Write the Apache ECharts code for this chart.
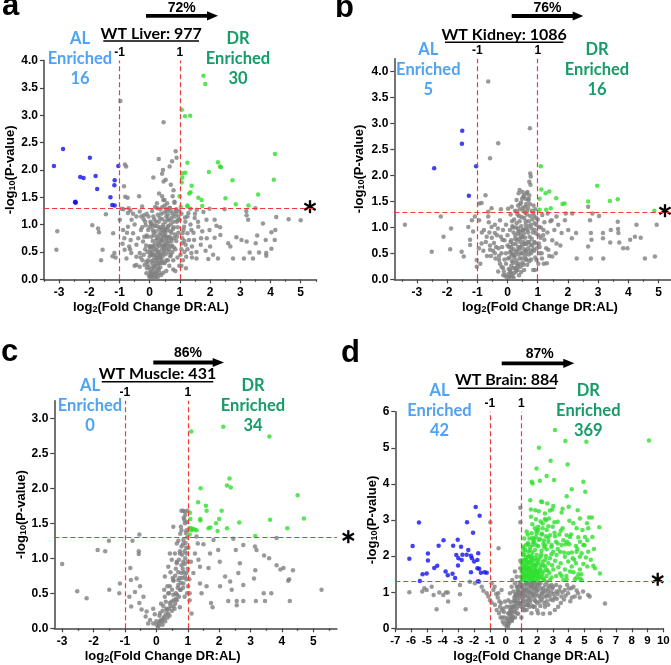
<!DOCTYPE html>
<html><head><meta charset="utf-8">
<script src="https://cdn.jsdelivr.net/npm/echarts@6/dist/echarts.min.js"></script>
<style>html,body{margin:0;padding:0;background:#fff}#c{width:671px;height:665px}</style>
</head><body><div id="c"></div><script>
// ---------- DATA ----------
const xTicksABC = [-3,-2,-1,0,1,2,3,4,5];
const yTicksAB = [0,0.5,1,1.5,2,2.5,3,3.5,4];
const yTicksC = [0,0.5,1,1.5,2,2.5,3];
const xTicksD = [-7,-6,-5,-4,-3,-2,-1,0,1,2,3,4,5,6,7,8,9,10];
const yTicksD = [0,1,2,3,4,5,6];

const titles = ['WT Liver: 977','WT Kidney: 1086','WT Muscle: 431','WT Brain: 884'];
const percents = ['72%','76%','86%','87%'];
const alCounts = ['16','5','0','42'];
const drCounts = ['30','16','34','369'];
const panelLetters = ['a','b','c','d'];
const cutX = [-1, 1];
const cutY = 1.3;

const aBlue = [[-3.17,2.07],[-2.87,2.38],[-1.98,2.22],[-2.30,1.87],[-2.19,1.85],[-1.79,1.89],[-1.74,1.65],[-2.47,1.41],[-2.45,1.40],[-1.30,1.50],[-1.16,1.81],[-1.17,1.72],[-1.24,1.36],[-1.16,1.35],[-1.04,2.07],[-2.46,1.42]];
const aGreen = [[1.78,3.72],[1.84,3.57],[1.06,3.10],[1.17,2.98],[1.34,2.99],[4.15,2.29],[1.25,2.13],[2.26,2.14],[2.33,2.06],[2.36,2.05],[1.08,1.94],[1.18,1.95],[1.96,1.96],[2.74,1.81],[4.11,1.82],[1.08,1.86],[1.39,1.71],[1.06,1.77],[1.31,1.57],[1.35,1.59],[1.61,1.49],[1.72,1.45],[2.51,1.48],[3.59,1.55],[0.99,1.52],[1.03,1.32],[1.25,1.35],[1.25,1.33],[1.74,1.34],[2.85,1.37],[3.27,1.35]];
const aGrey = [[-3.06,0.88],[-3.09,0.54],[-1.90,0.99],[-1.71,0.93],[-1.68,0.86],[-1.45,1.19],[-1.56,0.54],[-1.61,0.35],[-1.21,0.84],[-1.17,0.48],[-1.23,0.42],[-1.13,0.40],[-0.97,3.26],[-0.82,2.10],[-0.78,2.06],[-0.85,1.70],[-0.81,1.51],[-0.73,1.49],[-0.35,1.52],[-0.93,1.29],[-0.87,1.28],[-0.72,1.21],[-0.64,1.26],[-0.25,1.33],[-0.19,1.17],
[0.46,2.87],[0.30,2.20],[0.86,2.34],[0.89,2.22],[0.74,2.16],[0.66,2.06],[0.44,2.00],[0.41,1.93],[0.53,1.82],[0.12,1.86],[0.46,1.79],[0.70,1.73],[0.79,1.63],[0.76,1.52],[0.31,1.57],[0.41,1.52],[0.49,1.45],[0.24,1.39],[0.58,1.39],[0.82,1.42],[0.18,1.32],[0.42,1.32],[0.67,1.31],[0.88,1.28],
[1.35,1.29],[1.56,1.27],[1.98,1.29],[2.48,1.28],[3.20,1.25],[3.50,1.30],[4.19,1.14],[4.60,1.10],[5.00,1.08],[3.21,1.17],[3.26,1.09],[3.75,1.02],[4.16,0.90],[4.03,0.86],[4.14,0.72],[3.56,0.80],[3.84,0.72],[2.87,0.77],[3.04,0.72],[3.21,0.69],[3.51,0.66],[2.60,0.66],[2.67,0.60],[3.31,0.49],[3.62,0.49],[3.86,0.48],[4.03,0.56],[2.76,0.38],[3.12,0.38],[3.42,0.38],[3.86,0.43],[2.26,0.38],[1.94,0.37],[2.10,0.45],
[1.78,1.23],[1.88,1.09],[1.61,0.96],[1.74,0.88],[1.89,0.75],[1.98,0.90],[2.15,1.09],[2.21,0.98],[2.33,0.95],[2.34,0.81],[2.15,0.76],[2.00,0.60],[1.85,0.52],[1.69,0.63],[1.55,0.50],[1.38,0.48],[1.47,0.72],[1.25,0.84],[1.38,0.90],[1.14,0.96],[1.17,1.13],[1.49,1.12],[1.28,1.21],[0.99,1.09],[1.09,0.84],[1.07,0.66],[1.19,0.63],[1.40,0.60],[1.21,0.41],[1.55,0.38],
[-0.60,1.09],[-0.72,0.96],[-0.55,0.84],[-0.88,0.90],[-0.84,0.75],[-0.63,0.72],[-0.44,0.63],[-0.68,0.60],[-0.83,0.54],[-0.61,0.48],[-0.44,0.41],[-0.33,0.48],[-0.24,0.35],[-0.77,0.38],[-0.17,0.26],[-0.09,0.20],[-0.11,0.11],[-0.02,0.05],[0.04,0.02],[0.01,0.08],[-0.33,0.23],[-0.44,0.26],[-0.11,0.32],[-0.22,0.69],[-0.29,0.90],[-0.08,0.78],[-0.13,0.99],[0.00,0.60],[0.02,0.48],[-0.04,1.15],[0.06,1.02],[-0.44,1.15],[-0.33,1.24],[-0.99,1.09],
[0.05,0.05],[0.1,0.1],[0.15,0.03],[0.2,0.12],[0.08,0.2],[0.18,0.25],[0.25,0.18],[0.3,0.3],[0.12,0.35],[0.22,0.4],[0.35,0.22],[0.4,0.35],[0.28,0.5],[0.15,0.55],[0.05,0.45],[0.32,0.62],[0.45,0.48],[0.5,0.3],[0.55,0.55],[0.42,0.7],[0.25,0.75],[0.1,0.7],[0.2,0.88],[0.35,0.85],[0.5,0.8],[0.62,0.65],[0.7,0.45],[0.6,0.95],[0.45,1.0],[0.3,1.05],[0.15,1.1],[0.38,1.2],[0.55,1.15],[0.7,1.0],[0.8,0.75],[0.85,0.55],[0.75,1.2],[0.9,1.05],[0.95,0.85],[0.65,1.3],[0.5,1.35],[0.25,1.3],[0.1,0.9],[0.0,0.6],[-0.05,0.35],[0.02,0.15],[0.12,0.6],[0.27,0.65],[0.4,0.55],[0.33,0.42],[0.48,0.62],[0.58,0.78],[0.68,0.88],[0.72,0.7],[0.8,0.95],[0.88,0.7],[0.92,0.4],[0.78,0.35],[0.65,0.25],[0.55,0.15],[0.45,0.12],[0.38,0.08],[0.28,0.05],[0.22,0.02],[0.42,0.9],[0.52,0.92],[0.35,0.95],[0.18,0.98],[0.6,1.1],[0.85,1.25],[0.95,1.15],[0.82,1.4],[0.45,1.45],[0.58,1.25],[0.3,0.18],[0.18,0.45],[0.08,0.5],[0.25,0.58],[0.62,0.5],[0.7,0.6],[0.75,0.5],[1.05,0.55],[1.1,0.35],[1.15,0.7],[1.05,1.2],[0.98,0.25],[0.15,0.8],[0.05,1.0],[-0.1,0.8],[-0.15,0.55],[-0.2,1.1],[-0.3,0.4],[0.38,0.75],[0.46,0.78],[0.53,0.7],[0.6,0.35],[0.85,0.15],[0.78,0.18],[1.2,0.2]];
const aGreyCore = [[0.02,0.12],[0.07,0.07],[0.13,0.15],[0.17,0.08],[0.23,0.1],[0.27,0.25],[0.09,0.28],[-0.03,0.22],[0.14,0.22],[0.32,0.12],[0.2,0.3],[0.36,0.3],[0.06,0.33],[-0.07,0.28],[0.24,0.34],
[0.0,0.42],[0.1,0.45],[0.16,0.4],[0.26,0.44],[0.31,0.5],[0.37,0.46],[0.43,0.42],[0.48,0.52],[0.53,0.46],[0.58,0.6],[0.64,0.55],[0.68,0.42],[0.74,0.62],[0.8,0.58],[0.07,0.6],[0.17,0.64],[0.22,0.52],[0.34,0.68],[0.41,0.62],[0.47,0.58],[0.52,0.64],[0.63,0.7],[0.36,0.38],[0.44,0.3],[0.55,0.35],[-0.08,0.5],[-0.12,0.62],[-0.2,0.45],[0.02,0.55],[0.28,0.38],
[0.05,0.78],[0.13,0.85],[0.22,0.72],[0.28,0.8],[0.32,0.92],[0.4,0.82],[0.48,0.88],[0.55,0.75],[0.58,0.9],[0.66,0.78],[0.72,0.85],[0.77,0.92],[0.84,0.82],[0.9,0.78],[0.93,0.95],[-0.05,0.9],[-0.18,0.78],[-0.25,0.95],[0.0,0.95],[0.1,0.98],[0.25,0.97],[0.45,0.95],[0.62,0.98],[0.7,0.75],[0.52,0.85],[0.38,0.72],
[0.02,1.05],[0.12,1.15],[0.2,1.05],[0.27,1.18],[0.33,1.12],[0.42,1.1],[0.48,1.22],[0.52,1.05],[0.6,1.18],[0.65,1.08],[0.72,1.12],[0.78,1.05],[0.82,1.15],[0.88,1.2],[0.92,1.08],[0.98,1.25],[-0.1,1.2],[-0.15,1.05],[0.08,1.25],[0.35,1.28],[0.55,1.28],[0.7,1.25],
[1.02,0.45],[1.08,0.75],[1.12,0.9],[1.18,1.05],[1.25,0.55],[1.3,0.72],[1.35,1.0],[1.45,0.85],[1.05,0.25],[1.15,0.5],[1.5,1.2],[1.6,1.05],[1.7,0.75],[1.4,0.4],[1.25,1.15],
[-0.5,1.0],[-0.65,0.55],[-0.75,0.85],[-0.5,0.25],[-0.38,0.75],[-0.9,0.65],[-0.55,1.2],[-0.28,1.15],[-0.7,1.3]];

const bBlue = [[-1.50,2.86],[-1.51,2.61],[-2.43,2.14],[-1.04,2.18],[-1.28,1.61]];
const bGreen = [[1.10,2.18],[1.12,1.73],[1.26,1.66],[1.38,1.69],[1.06,1.55],[1.61,1.56],[1.82,1.45],[1.89,1.46],[2.67,1.50],[2.97,1.80],[3.39,1.51],[3.65,1.54],[1.06,1.34],[1.28,1.34],[1.43,1.37],[4.86,1.32]];
const bGrey = [[-0.64,3.81],[0.74,2.91],[-0.31,2.62],[-0.58,2.33],[0.75,2.04],[0.77,1.98],[0.72,1.88],[0.76,1.82],[0.40,1.72],[0.37,1.66],[0.63,1.66],[0.52,1.59],[0.69,1.53],[0.30,1.53],[0.42,1.45],[0.14,1.40],[0.02,1.36],[-0.22,1.35],[-0.53,1.37],[-0.73,1.62],[-0.94,1.46],[-0.86,1.47],[-0.64,1.30],[-2.21,1.21],[-3.40,1.05],[-1.87,0.98],[-2.12,0.82],[-1.90,0.58],[-2.51,0.53],[-1.52,0.53],[-1.45,0.44],[-1.24,0.76],[-1.30,1.01],[-1.18,1.14],[-1.08,1.21],[-1.14,0.92],[-1.24,0.66],[-1.02,0.37],[-1.02,0.24],[-0.94,1.14],[-0.78,0.95],[-0.86,0.69],[-0.69,0.82],[-0.53,1.01],[-0.42,0.89],[-0.58,0.57],[-0.42,0.50],[-0.28,0.37],[-0.20,0.24],[-0.31,0.15],[-0.14,0.08],[-0.03,0.04],[0.08,0.05],[-0.64,1.21],[-0.25,1.14],[-0.17,0.76],
[1.33,1.27],[1.15,1.24],[1.46,1.14],[1.62,1.21],[1.93,1.27],[2.14,1.27],[2.67,1.40],[2.81,1.27],[3.03,1.22],[2.73,1.14],[3.16,0.89],[3.16,0.79],[3.42,0.95],[3.65,1.11],[3.66,0.97],[3.67,0.89],[3.70,0.71],[3.83,0.60],[3.97,0.60],[4.06,0.76],[4.22,0.82],[4.27,1.05],[4.41,0.80],[4.55,0.40],[4.88,0.44],[4.94,1.05],[3.17,0.40],[2.76,0.40],[2.29,0.40],[2.76,0.89],[2.78,0.76],[2.67,0.63],[3.40,0.71],[2.27,0.89],[2.13,0.79],[2.01,0.95],[1.90,1.14],[1.79,0.89],[1.62,0.69],[1.48,0.44],[1.35,0.57],[1.22,0.76],[1.19,0.95],[1.04,1.01],[1.03,0.85],[1.04,0.69],[1.13,0.50],[0.96,0.37],[1.30,0.31],[0.91,0.18],
[0.05,0.05],[0.12,0.1],[0.2,0.03],[0.08,0.18],[0.18,0.22],[0.28,0.15],[0.3,0.3],[0.15,0.35],[0.22,0.42],[0.35,0.25],[0.4,0.4],[0.28,0.52],[0.12,0.55],[0.02,0.4],[0.35,0.62],[0.45,0.5],[0.5,0.32],[0.55,0.58],[0.42,0.72],[0.25,0.78],[0.1,0.72],[0.2,0.9],[0.35,0.88],[0.5,0.82],[0.62,0.68],[0.7,0.48],[0.6,0.98],[0.45,1.02],[0.3,1.08],[0.15,1.12],[0.38,1.22],[0.55,1.18],[0.7,1.02],[0.8,0.78],[0.85,0.58],[0.75,1.22],[0.9,1.08],[0.95,0.88],[0.65,1.32],[0.5,1.38],[0.25,1.32],[0.0,0.65],[-0.05,0.3],[0.12,0.62],[0.27,0.68],[0.4,0.58],[0.48,0.65],[0.58,0.8],[0.68,0.9],[0.72,0.72],[0.8,0.98],[0.88,0.72],[0.92,0.42],[0.78,0.38],[0.65,0.28],[0.55,0.18],[0.45,0.14],[0.38,0.08],[0.42,0.92],[0.52,0.95],[0.35,0.98],[0.18,1.0],[0.6,1.12],[0.85,1.28],[0.95,1.18],[0.45,1.48],[0.58,1.28],[0.3,0.2],[0.18,0.48],[0.08,0.52],[0.62,0.52],[0.75,0.55],[0.38,0.78],[0.46,0.8],[0.53,0.72],[0.6,0.38],[0.85,0.18],[0.62,1.45],[0.7,1.55],[0.35,1.42],[0.55,1.62],[-0.1,0.75],[-0.2,0.5],[-0.3,0.6],[-0.15,0.95],[-0.35,0.85],[-0.45,0.7],[-0.55,0.45],[-0.25,0.3],[-0.12,0.15],[-0.4,0.4],[-0.6,0.9],[-0.05,1.05],[0.1,1.25],[1.05,0.5],[1.1,0.8],[1.2,0.3],[1.0,1.15]];
const bGreyCore = [[0.03,0.1],[0.1,0.14],[0.16,0.06],[0.22,0.12],[0.26,0.22],[0.12,0.26],[0.04,0.2],[0.33,0.18],[0.18,0.32],[0.29,0.36],[0.38,0.3],[0.43,0.24],[0.48,0.4],[0.52,0.28],[0.58,0.45],[0.63,0.38],[0.68,0.6],[0.72,0.35],[0.78,0.5],[0.82,0.65],[0.88,0.55],[0.92,0.7],[0.97,0.6],[0.07,0.42],[0.14,0.48],[0.2,0.58],[0.24,0.46],[0.32,0.55],[0.37,0.48],[0.42,0.62],[0.5,0.5],[0.56,0.68],[0.6,0.55],[0.66,0.72],[0.73,0.82],[0.76,0.66],[0.84,0.9],[0.9,0.95],[0.95,1.05],[0.05,0.62],[0.12,0.75],[0.18,0.68],[0.26,0.85],[0.31,0.75],[0.36,0.92],[0.44,0.85],[0.5,0.95],[0.54,0.88],[0.6,1.05],[0.66,0.95],[0.7,1.12],[0.78,1.05],[0.82,1.15],[0.88,1.22],[0.92,1.35],[0.0,0.85],[0.08,0.95],[0.16,1.02],[0.22,1.15],[0.28,1.0],[0.33,1.25],[0.4,1.12],[0.46,1.2],[0.52,1.32],[0.58,1.4],[0.64,1.25],[0.68,1.38],[0.74,1.45],[0.8,1.32],[0.86,1.42],[0.4,1.35],[0.3,1.3],[0.48,1.55],[0.6,1.55],[0.66,1.68],[0.72,1.62],[0.5,1.68],[-0.05,0.5],[-0.1,0.38],[-0.18,0.62],[-0.22,0.82],[-0.28,0.45],[-0.32,0.98],[-0.38,0.62],[-0.42,1.05],[-0.48,0.55],[-0.52,0.8],[-0.58,0.65],[-0.62,1.1],[-0.68,0.45],[-0.72,0.72],[-0.8,0.55],[-0.85,0.9],[-0.9,0.3],[-0.95,0.6],[-0.15,0.22],[-0.08,0.08],[1.02,0.3],[1.06,0.62],[1.1,1.0],[1.14,0.4],[1.18,0.85],[1.22,1.1],[1.28,0.6],[1.32,0.9],[1.38,0.45],[1.42,1.12],[1.48,0.75],[1.55,0.95],[1.6,0.5],[1.68,1.05],[1.75,0.65]];

const cBlue = [];
const cGreen = [[1.11,2.81],[2.13,2.88],[3.60,2.74],[2.33,2.14],[2.25,2.04],[2.37,2.01],[1.41,2.00],[4.50,1.90],[1.33,1.80],[1.58,1.75],[1.60,1.68],[2.08,1.68],[1.07,1.65],[4.70,1.57],[3.62,1.55],[1.40,1.56],[1.40,1.54],[1.08,1.56],[2.00,1.56],[1.90,1.50],[2.64,1.51],[1.95,1.39],[1.05,1.43],[1.10,1.43],[1.16,1.42],[1.22,1.41],[1.66,1.43],[1.72,1.44],[2.25,1.43],[4.17,1.43],[3.15,1.32],[1.06,1.34],[1.12,1.40],[1.28,1.40]];
const cGrey = [[-3.0,0.92],[-2.52,0.53],[-2.22,0.43],[-1.87,1.12],[-1.63,1.10],[-1.51,1.25],[-1.50,0.55],[-1.16,0.64],[-1.18,0.50],[-0.83,0.86],[-0.76,1.25],[-0.81,0.69],[-0.63,0.71],[-0.86,0.45],[-0.80,0.31],[-0.68,0.52],[-0.54,1.34],[-0.56,1.10],[-0.56,1.06],[-0.52,0.60],[-0.41,0.45],[-0.54,0.36],[-0.47,0.27],[-0.31,0.24],[-0.34,0.17],[-0.20,0.12],[-0.10,0.07],[-0.26,0.07],[0.01,0.05],[0.11,0.10],[0.22,0.14],[0.38,0.21],[0.33,0.26],[0.54,0.31],[0.43,0.36],[0.65,0.40],[0.54,0.48],[0.75,0.55],[0.86,0.64],[0.70,0.69],[0.91,0.74],[0.80,0.79],[0.54,0.69],[0.43,0.60],[0.27,0.45],[0.27,0.74],[0.38,0.88],[0.49,0.98],[0.43,1.07],[0.59,1.07],[0.65,0.93],[0.75,1.07],[0.80,1.17],[0.65,1.21],[0.86,1.26],[0.80,1.40],[0.54,1.45],[0.91,1.67],[0.80,1.68],[0.89,1.55],[0.91,1.50],[0.94,1.36],[0.96,1.07],[1.00,0.95],[0.96,0.79],[1.01,0.60],[1.06,0.40],[1.12,0.21],[1.06,0.50],[1.18,0.79],[1.23,1.07],[1.32,1.21],[1.34,0.98],[1.39,0.64],[1.44,0.50],[1.60,0.60],[1.66,0.86],[1.71,1.07],[1.82,1.26],[1.97,1.12],[2.02,0.95],[1.74,0.36],[1.79,0.30],[2.03,0.60],[2.19,0.74],[2.35,0.67],[2.40,0.55],[2.29,0.39],[2.56,0.39],[2.56,0.33],[2.77,0.39],[2.77,0.62],[2.66,0.93],[2.61,0.79],[2.53,1.12],[2.77,1.19],[3.14,1.17],[3.15,0.83],[3.11,0.71],[3.17,0.39],[3.46,0.39],[3.42,0.50],[3.66,0.50],[3.43,1.04],[3.59,1.00],[3.83,1.29],[3.83,0.90],[3.95,0.84],[4.05,0.86],[4.23,0.70],[4.20,0.68],[4.25,0.39],[4.35,0.83],[5.26,0.55],[3.19,1.12],[2.45,1.28],[1.50,1.20],[1.28,1.31],[1.39,0.88],
[0.05,0.02],[0.1,0.08],[0.15,0.12],[0.2,0.05],[0.25,0.16],[0.3,0.2],[0.35,0.15],[0.4,0.28],[0.45,0.32],[0.5,0.25],[0.55,0.4],[0.6,0.35],[0.62,0.5],[0.68,0.58],[0.72,0.45],[0.78,0.65],[0.82,0.72],[0.85,0.58],[0.88,0.8],[0.9,0.92],[0.92,1.0],[0.95,1.15],[0.98,1.3],[0.7,0.8],[0.6,0.75],[0.5,0.55],[0.4,0.5],[0.3,0.38],[0.2,0.25],[0.1,0.18],[0.0,0.1],[-0.05,0.2],[-0.1,0.28],[0.35,0.6],[0.65,0.95],[0.75,1.1],[0.85,1.2],[0.8,0.9],[0.95,0.7],[0.98,0.5],[0.9,0.45],[0.75,0.3],[0.55,0.68],[0.45,0.8],[0.25,0.55],[0.15,0.35],[1.0,0.85],[0.97,1.52],[0.92,1.62],[0.85,1.68],[0.78,1.45],[0.7,1.25]];
const cGreyCore = [[0.08,0.04],[0.18,0.1],[0.28,0.1],[0.32,0.28],[0.42,0.18],[0.48,0.38],[0.58,0.28],[0.62,0.42],[0.66,0.48],[0.7,0.62],[0.74,0.72],[0.78,0.55],[0.84,0.85],[0.86,0.95],[0.9,1.1],[0.93,1.22],[0.96,1.4],[0.82,1.05],[0.72,0.98],[0.62,0.85],[0.52,0.72],[0.38,0.5],[0.22,0.32],[0.12,0.22],[1.02,1.15],[1.05,0.7],[1.1,0.95],[0.99,1.68],[0.87,1.58],[0.76,1.35]];

const dBlue = [[-6.11,1.93],[-5.90,2.28],[-5.50,2.93],[-5.44,1.31],[-5.27,1.50],[-5.01,1.52],[-4.93,2.07],[-4.93,1.88],[-4.53,1.67],[-4.34,1.73],[-4.25,2.29],[-3.94,2.44],[-3.81,1.57],[-3.67,1.47],[-3.37,1.51],[-3.33,2.29],[-3.21,1.39],[-3.13,2.03],[-3.04,2.45],[-3.00,1.94],[-3.02,1.74],[-2.83,2.26],[-2.74,2.04],[-2.47,2.04],[-2.45,2.94],[-2.20,2.01],[-2.14,1.94],[-2.20,1.55],[-2.07,2.65],[-2.00,1.85],[-1.90,3.36],[-1.79,1.89],[-1.79,1.66],[-1.65,3.12],[-1.68,1.65],[-1.57,1.54],[-1.34,1.55],[-1.20,1.54],[-1.75,1.30],[-2.37,2.17],[-2.79,1.89],[-1.74,2.08]];
const dGreen = [[3.13,5.49],[3.79,5.19],[5.12,5.17],[9.09,5.20],[2.11,5.00],[2.85,4.64],[3.93,4.54],[1.96,4.43],[1.65,4.06],[1.71,4.01],[2.17,4.09],[2.60,4.22],[3.07,4.11],[4.93,4.06],[4.19,3.85],[5.05,3.78],[3.87,3.66],[1.56,3.55],[2.24,3.51],[2.32,3.50],[2.64,3.46],[3.02,3.39],[2.96,3.29],[3.61,3.31],[4.0,3.37],[1.60,3.29],[1.88,3.27],[2.10,3.24],[2.49,3.18],[2.81,3.26],[3.55,3.21],[4.57,3.27],[5.29,3.07],[5.47,3.07],[1.61,3.09],[1.92,3.02],[2.22,2.96],[2.49,3.03],[2.75,3.04],[3.09,2.94],[2.71,2.83],[3.61,2.77],[4.04,2.98],[4.29,2.91],[4.71,3.04],[5.16,2.91],[5.94,2.80],[1.69,2.88],[1.86,2.77],[2.07,2.81],[2.35,2.77],[2.60,2.72],[2.98,2.81],[4.50,2.77],[4.87,2.72],[5.24,2.77],[1.33,2.68],[1.65,2.63],[1.97,2.63],[2.28,2.60],[2.81,2.58],[3.13,2.55],[3.87,2.58],[4.08,2.53],[4.61,2.52],[5.03,2.53],[5.50,2.53],[1.18,2.49],[1.51,2.49],[1.80,2.47],[2.18,2.47],[2.43,2.43],[2.71,2.40],[3.19,2.40],[3.66,2.44],[4.71,2.40],[5.18,2.44],[1.40,2.35],[1.71,2.31],[2.07,2.28],[2.39,2.34],[2.92,2.31],[3.55,2.31],[3.80,2.33],[4.04,2.33],[4.46,2.28],[4.93,2.31],[1.12,2.26],[1.25,2.17],[1.55,2.17],[1.86,2.17],[2.28,2.15],[2.60,2.19],[3.02,2.12],[3.45,2.12],[3.97,2.08],[4.50,2.12],[4.82,2.08],[5.24,2.12],[1.12,2.03],[1.44,1.98],[1.65,2.00],[1.97,2.03],[2.22,1.98],[2.56,2.00],[2.81,1.94],[3.23,2.03],[3.76,1.98],[4.25,1.94],[4.71,1.98],[5.09,1.96],[1.22,1.89],[1.54,1.85],[1.75,1.87],[2.07,1.82],[2.35,1.85],[2.71,1.80],[3.13,1.87],[3.49,1.80],[3.97,1.85],[4.46,1.80],[4.93,1.78],[5.56,1.73],[5.66,1.66],[5.98,1.52],[1.08,1.75],[1.33,1.71],[1.58,1.72],[1.75,1.66],[1.92,1.71],[2.18,1.66],[2.49,1.71],[3.02,1.63],[3.34,1.69],[3.76,1.63],[4.19,1.71],[4.71,1.63],[5.18,1.71],[1.16,1.59],[1.44,1.57],[1.65,1.57],[1.86,1.59],[2.14,1.52],[2.39,1.57],[2.77,1.54],[3.45,1.52],[4.08,1.57],[4.61,1.50],[1.12,1.48],[1.37,1.45],[1.58,1.43],[1.80,1.48],[2.01,1.43],[2.28,1.41],[2.60,1.45],[2.92,1.41],[3.55,1.45],[4.40,1.36],[4.71,1.38],[4.82,1.34],[1.16,1.35],[1.51,1.35],[1.75,1.34],[2.07,1.35],[2.39,1.34],[2.81,1.34],[3.66,1.34],[3.87,1.35],[4.50,1.41],[1.02,1.80],[1.08,1.89],[1.16,2.08],[1.29,1.98],[1.44,2.12],[1.02,1.57],[1.29,1.50],[1.51,1.66],[1.65,1.80],[1.86,1.75],[1.97,1.89],[1.33,1.85],[1.22,1.66],[1.54,1.52],[1.97,1.48],[1.65,1.43],[1.08,1.43],[1.08,1.66],[1.44,2.35],[1.75,2.40],[1.92,2.53],[2.07,2.72],[2.35,2.90],[2.56,2.99],[2.45,2.25],[2.90,2.05],[3.30,2.20],[3.40,2.60],[3.30,2.95],[3.20,1.45],[3.85,1.45],[4.30,1.55],[4.20,2.10],[2.95,1.75],[2.65,1.60],[2.25,1.75],[1.40,1.60],[1.85,1.40],[1.25,1.40],[1.35,1.78],[1.95,2.30],[2.55,2.55],[2.02,1.58],[1.62,1.95]];
const dGreenCore = [[1.05,1.38],[1.1,1.52],[1.14,1.7],[1.18,1.45],[1.2,1.8],[1.24,1.32],[1.27,1.62],[1.3,1.9],[1.35,1.48],[1.38,1.68],[1.42,1.38],[1.46,1.82],[1.48,2.0],[1.52,1.45],[1.56,1.62],[1.6,1.35],[1.63,1.9],[1.67,1.55],[1.7,2.1],[1.73,1.42],[1.78,1.75],[1.82,1.52],[1.85,1.95],[1.9,1.62],[1.94,1.32],[1.98,1.78],[2.03,1.55],[2.1,1.92],[2.16,1.42],[2.2,1.6],[2.26,2.05],[2.32,1.5],[2.38,1.75],[2.44,1.38],[2.52,1.9],[2.58,1.62],[1.12,2.2],[1.28,2.3],[1.4,2.6],[1.55,2.25],[1.7,2.5],[1.82,2.38],[1.95,2.7],[2.1,2.45],[2.3,2.62],[2.5,2.3],[2.7,2.5],[2.9,2.25],[3.1,2.65],[3.3,2.35],[3.5,2.7],[3.7,2.1],[3.9,2.4],[4.15,2.6],[4.35,1.9],[4.55,2.2],[4.8,1.5],[5.0,2.3],[5.4,1.9],[5.6,2.2]];
const dGrey = [[-6.11,1.00],[-5.29,1.02],[-5.16,1.11],[-5.01,1.06],[-4.69,1.15],[-4.57,0.92],[-4.38,0.53],[-4.21,0.99],[-3.96,0.92],[-3.79,0.99],[-3.67,0.99],[-3.65,0.74],[-2.90,0.94],[-2.90,1.20],[-2.54,0.53],[-2.27,1.29],[-1.95,1.25],[-1.67,1.29],[-1.52,1.15],[-1.41,1.04],[-1.20,0.97],[-1.10,0.88],[-0.97,2.94],[-0.45,2.22],[-0.99,0.78],[-0.89,0.71],[-0.68,0.65],[-0.57,0.51],[-0.42,0.42],[-0.32,0.30],[-0.19,0.18],[-0.09,0.12],[0.06,0.06],[0.17,0.12],[-0.36,0.60],[-0.47,0.97],[-0.78,1.06],[-0.89,1.25],[-0.26,1.06],[-0.04,0.74],[0.17,0.42],[0.38,0.28],[0.34,0.51],[0.55,0.60],[0.70,0.42],[0.59,0.78],[0.80,0.97],[0.91,0.69],[0.97,1.43],[0.93,1.66],[0.93,1.87],[0.93,2.94],[0.93,3.34],[1.01,1.15],[1.06,0.88],[1.12,0.51],[1.22,1.06],[1.33,1.25],[1.43,0.78],[1.54,0.97],[1.64,1.15],[1.75,0.60],[1.85,0.88],[1.96,1.06],[2.06,1.25],[2.17,0.74],[2.27,0.95],[2.38,1.11],[2.49,0.60],[2.59,0.88],[2.70,1.02],[2.91,1.20],[3.01,0.78],[3.22,1.02],[3.33,0.60],[3.54,0.88],[3.75,1.06],[3.96,0.97],[4.17,1.11],[4.38,0.88],[4.59,0.97],[4.91,1.02],[5.23,0.92],[5.33,0.88],[6.30,0.69],[0.59,1.25],[0.76,1.15],[0.70,1.43],[0.59,1.57],[0.42,1.34],[0.38,1.15],[0.27,0.97],[0.17,0.78],[0.06,0.60],[0.49,1.02],[0.70,0.92],[0.80,0.69],[1.01,0.60],[1.33,0.51],[1.64,0.42],[2.06,0.42],[2.38,0.40],[2.81,0.42],[3.12,0.51],[1.85,0.60],[1.43,0.65],
[0.1,0.1],[0.2,0.2],[0.3,0.35],[0.4,0.2],[0.5,0.45],[0.6,0.3],[0.7,0.55],[0.8,0.4],[0.9,0.7],[1.0,0.3],[1.1,0.75],[1.2,0.9],[1.3,0.65],[1.4,1.05],[1.5,0.85],[1.6,1.2],[1.7,0.95],[1.8,1.1],[1.9,0.75],[2.0,1.15],[2.1,0.9],[2.2,1.25],[2.3,0.8],[2.4,1.0],[2.5,1.2],[2.6,0.75],[2.7,1.1],[2.8,0.9],[2.9,1.0],[3.0,1.15],[3.1,0.85],[3.2,1.2],[3.3,0.95],[3.4,1.05],[3.5,0.7],[3.6,1.0],[3.8,0.9],[4.0,1.1],[4.2,0.85],[4.5,1.05],[0.6,0.9],[0.8,1.05],[1.0,1.2],[0.5,0.75],[0.4,0.6],[0.3,0.5],[1.2,0.5],[1.5,0.6],[1.1,1.0],[1.3,1.25],[1.6,0.8],[2.0,0.5],[0.9,1.25],[0.7,1.15],[0.2,0.4],[-0.1,0.45],[-0.2,0.3],[-0.3,0.7],[-0.5,0.85],[1.7,1.28],[1.9,1.22],[2.6,1.28]];
const dGreyCore = [[0.05,0.2],[0.12,0.28],[0.22,0.15],[0.28,0.4],[0.35,0.45],[0.42,0.35],[0.45,0.58],[0.52,0.62],[0.58,0.48],[0.62,0.72],[0.68,0.68],[0.72,0.85],[0.78,0.78],[0.82,0.62],[0.86,0.92],[0.92,0.85],[0.96,1.0],[1.02,0.95],[1.06,1.1],[1.12,0.82],[1.16,1.05],[1.22,1.2],[1.26,0.95],[1.32,1.1],[1.38,0.88],[1.42,1.22],[1.46,1.0],[1.52,1.15],[1.56,1.28],[1.62,1.05],[1.68,1.18],[1.72,0.9],[1.78,1.25],[1.82,1.0],[1.88,1.12],[1.94,0.95],[2.04,1.05],[2.12,1.2],[2.18,0.85],[2.24,1.1],[2.32,1.0],[2.42,0.88],[2.52,1.05],[2.64,0.92],[2.75,1.18],[2.85,0.8],[2.95,1.1],[3.05,0.95],[3.25,0.82],[3.45,1.15],[3.7,0.8],[3.9,1.2],[4.1,0.75],[4.3,1.15],[4.7,0.85],[0.15,0.05],[0.25,0.25],[0.38,0.22],[0.48,0.3],[0.55,0.85],[0.65,0.95],[0.75,1.05],[0.85,1.15],[0.95,1.28],[0.32,0.72],[0.25,0.6],[1.05,0.68],[1.15,0.6],[1.28,0.75],[1.4,0.65],[1.55,0.72],[1.7,0.62],[1.85,0.78],[2.0,0.7],[2.2,0.62],[2.45,0.7],[2.7,0.65],[-0.05,0.3],[-0.15,0.55],[-0.25,0.5],[-0.4,0.75],[-0.6,0.95],[-0.7,1.15]];

// ---------- LAYOUT / STYLE ----------
const AX = '"Liberation Sans", Arial, sans-serif';
const CAL = 'Lato, "Open Sans", sans-serif';
const panels = [
  {grid:{left:44, top:60.5, width:271.8, height:218.8}, xMin:-3.5, xMax:5.5, yMax:4, xt:xTicksABC, yt:yTicksAB, dec:1, minor:true, grey:aGrey.concat(aGreyCore), blue:aBlue, green:aGreen, namePad:[0,58,0,0], yGap:26},
  {grid:{left:394.3, top:58.7, width:276.3, height:220.6}, xMin:-3.75, xMax:5.4, yMax:4.25, xt:xTicksABC, yt:yTicksAB, dec:1, minor:true, grey:bGrey.concat(bGreyCore), blue:bBlue, green:bGreen, namePad:[0,0,0,15], yGap:28},
  {grid:{left:54.3, top:400.8, width:282.6, height:227.5}, xMin:-3.25, xMax:5.75, yMax:3.25, xt:xTicksABC, yt:yTicksC, dec:1, minor:true, grey:cGrey.concat(cGreyCore), blue:cBlue, green:cGreen, namePad:[0,66,0,0], yGap:26},
  {grid:{left:395.3, top:411.7, width:268, height:216.6}, xMin:-7, xMax:10, yMax:6, xt:xTicksD, yt:yTicksD, dec:0, minor:false, grey:dGrey.concat(dGreyCore), blue:dBlue, green:dGreen.concat(dGreenCore), namePad:[0,0,0,4], yGap:13}
];

const axisCol = '#444';
const nameStyle = {fontSize:13, fontWeight:'bold', fontFamily:AX, color:'#000',
  rich:{s:{fontSize:9, fontWeight:'bold', fontFamily:AX, color:'#000', verticalAlign:'bottom', lineHeight:13, padding:[6,0,0,0]}}};

const grids=[], xAxes=[], yAxes=[], series=[];
panels.forEach((p,i)=>{
  grids.push(Object.assign({outerBoundsMode:'none', containLabel:false}, p.grid));
  xAxes.push({type:'value', gridIndex:i, min:p.xMin, max:p.xMax, position:'bottom',
    axisLine:{show:true, onZero:false, lineStyle:{color:axisCol, width:1.5}},
    axisTick:{show:true, inside:false, length:4, customValues:p.xt, lineStyle:{color:axisCol, width:1.2}},
    axisLabel:{customValues:p.xt, margin:7, fontSize:i===3?11.5:12, fontWeight:'bold', fontFamily:AX, color:'#000'},
    splitLine:{show:false},
    name:'log{s|2}(Fold Change DR:AL)', nameLocation:'middle', nameGap:19,
    nameTextStyle:Object.assign({}, nameStyle, {padding:p.namePad})});
  yAxes.push({type:'value', gridIndex:i, min:0, max:p.yMax, position:'left',
    axisLine:{show:true, onZero:false, lineStyle:{color:axisCol, width:1.5}},
    axisTick:{show:true, inside:false, length:4, customValues:p.yt, lineStyle:{color:axisCol, width:1.2}},
    axisLabel:{customValues:p.yt, margin:6, fontSize:12, fontWeight:'bold', fontFamily:AX, color:'#000',
      formatter:v=>v.toFixed(p.dec)},
    splitLine:{show:false},
    name:'-log{s|10}(P-value)', nameLocation:'middle', nameGap:p.yGap, nameRotate:90,
    nameTextStyle:nameStyle});
  const mk = {silent:true, symbol:['none','none'], animation:false,
    lineStyle:{color:'#f03a3a', type:[5,3], width:1.2},
    label:{show:true, position:'end', distance:2, color:'#000', fontWeight:'bold', fontSize:12, fontFamily:AX},
    data:[{xAxis:cutX[0], label:{formatter:String(cutX[0])}}, {xAxis:cutX[1], label:{formatter:String(cutX[1])}},
          {yAxis:cutY, label:{show:false}}]};
  series.push({type:'scatter', xAxisIndex:i, yAxisIndex:i, data:p.grey, symbolSize:4.5,
    itemStyle:{color:'#7f7f7f'}, markLine:mk, silent:true, animation:false});
  series.push({type:'scatter', xAxisIndex:i, yAxisIndex:i, data:p.blue, symbolSize:4.5,
    itemStyle:{color:'#1212ee'}, silent:true, animation:false});
  series.push({type:'scatter', xAxisIndex:i, yAxisIndex:i, data:p.green, symbolSize:4.5,
    itemStyle:{color:'#2ee02e'}, silent:true, animation:false});
});
panels.forEach((p,i)=>{
  if(!p.minor) return;
  const m=[]; for(let v=Math.ceil(p.xMin)-0.5; v<=p.xMax; v+=1){ if(v>=p.xMin) m.push(v); }
  xAxes.push({type:'value', gridIndex:i, min:p.xMin, max:p.xMax, position:'bottom',
    axisLine:{show:false}, axisTick:{show:true, length:2.5, customValues:m, lineStyle:{color:axisCol, width:1.2}},
    axisLabel:{show:false}, splitLine:{show:false}});
});

// ---------- ANNOTATIONS ----------
const letterPos = [[2,22],[335,24],[1,368],[341,369]];
const pctPos = [[181.7,8],[547.5,8],[188,353.3],[539.7,353.8]];
const arrowPos = [[146,207,218,15.8],[511.7,572.7,583.3,16],[153.3,212.7,224,362.5],[501.7,563.3,574.3,363.3]];
const titlePos = [[151.2,33.7,103.3,199,41],[504.2,35.3,445,563.3,42.3],[157.5,373.8,101.7,213.3,381.7],[506.7,380.3,457.7,555.7,388.3]];
const alPos = [[80,39,20],[428.3,49.2,20.3],[90,385.8,20],[439.5,390.8,20]];
const drPos = [[238,39,20],[597,49.2,20.3],[253,385.8,20],[588.3,390.8,20]];
const starPos = [[310,206.7],[665,210.7],[348.3,536.7],[657.7,579.3]];

const g=[];
function txt(s,x,y,font,fill,align){ g.push({type:'text', silent:true, style:{text:s, x, y, font, fill, align:align||'center', verticalAlign:'middle'}}); }
for(let i=0;i<4;i++){
  g.push({type:'text', silent:true, style:{text:panelLetters[i], x:letterPos[i][0], y:letterPos[i][1], font:'bold 31px '+AX, fill:'#000', align:'left', verticalAlign:'bottom'}});
  txt(percents[i], pctPos[i][0], pctPos[i][1], 'bold 14px '+AX, '#000');
  const a=arrowPos[i];
  g.push({type:'rect', silent:true, shape:{x:a[0], y:a[3]-1.9, width:a[1]-a[0]+1, height:3.8}, style:{fill:'#000'}});
  g.push({type:'polygon', silent:true, shape:{points:[[a[1],a[3]-4.6],[a[2],a[3]],[a[1],a[3]+4.6]]}, style:{fill:'#000'}});
  const t=titlePos[i];
  txt(titles[i], t[0], t[1], 'bold 16px '+CAL, '#000');
  g.push({type:'line', silent:true, shape:{x1:t[2], y1:t[4], x2:t[3], y2:t[4]}, style:{stroke:'#000', lineWidth:1.5}});
  const al=alPos[i], dr=drPos[i];
  ['AL','Enriched',alCounts[i]].forEach((s,k)=>txt(s, al[0], al[1]+k*al[2], 'bold 16.5px '+CAL, '#4fa3f2'));
  ['DR','Enriched',drCounts[i]].forEach((s,k)=>txt(s, dr[0], dr[1]+k*dr[2], 'bold 16.5px '+CAL, '#179c68'));
  const sp=starPos[i];
  [90,30,150].forEach(d=>{ const r=6.5, th=d*Math.PI/180;
    g.push({type:'line', silent:true, shape:{x1:sp[0]-r*Math.cos(th), y1:sp[1]-r*Math.sin(th), x2:sp[0]+r*Math.cos(th), y2:sp[1]+r*Math.sin(th)}, style:{stroke:'#000', lineWidth:2.3}});
  });
}

const chart = echarts.init(document.getElementById('c'), null, {renderer:'canvas'});
chart.setOption({animation:false, backgroundColor:'#fff', grid:grids, xAxis:xAxes, yAxis:yAxes, series, graphic:g});
</script></body></html>
